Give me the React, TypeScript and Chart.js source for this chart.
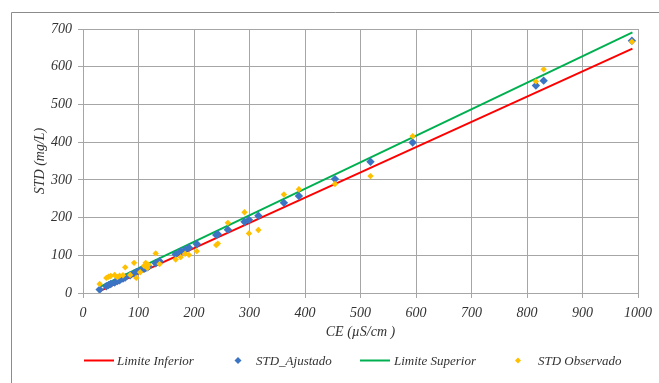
import React, { useEffect, useRef } from 'react';
import { Chart, registerables } from 'chart.js';

Chart.register(...registerables);

// CE (µS/cm) of each sample
const ceValues = [30, 42, 46, 50, 57, 62, 66, 72, 76, 85, 92, 96, 103, 110, 113, 116, 118, 131, 138, 167, 176, 184, 191, 205, 240, 243, 261, 291, 299, 316, 362, 389, 454, 518, 594, 816, 830, 989];
// STD fitted (mg/L)
const stdAjustado = [9, 18, 21, 24, 28, 32, 34, 38, 41, 47, 52, 55, 60, 64, 66, 68, 70, 79, 84, 103, 110, 115, 120, 130, 154, 156, 168, 189, 194, 205, 239, 257, 302, 348, 399, 550, 563, 669];
// STD observed (mg/L)
const stdObservado = [24, 40, 43, 45, 48, 42, 46, 47, 68, 48, 80, 40, 55, 72, 80, 66, 75, 105, 77, 89, 95, 104, 101, 111, 127, 131, 186, 214, 158, 167, 261, 275, 289, 310, 416, 561, 593, 666];
// Limit lines
const limitCE = [30, 990];
const limiteInferior = [5, 648];
const limiteSuperior = [16, 691];

const xTicks = [0, 100, 200, 300, 400, 500, 600, 700, 800, 900, 1000];
const yTicks = [0, 100, 200, 300, 400, 500, 600, 700];

const FONT = '"Liberation Serif", "Times New Roman", serif';
const TEXT = '#333333';
const GRID = '#a6a6a6';
const RED = '#ff0000';
const GREEN = '#00b050';
const BLUE = '#3c74c4';
const YELLOW = '#ffc000';

const toPoints = (xs: number[], ys: number[]) => xs.map((x, i) => ({ x, y: ys[i] }));

const decorPlugin = {
  id: 'decor',
  afterDraw(chart: any) {
    const ctx = chart.ctx as CanvasRenderingContext2D;
    const a = chart.chartArea;
    ctx.save();
    // outer chart frame (clipped at right / bottom)
    ctx.strokeStyle = '#8c8c8c';
    ctx.lineWidth = 1;
    ctx.beginPath();
    ctx.moveTo(11.5, chart.height);
    ctx.lineTo(11.5, 12.5);
    ctx.lineTo(chart.width, 12.5);
    ctx.stroke();

    // axis titles
    ctx.fillStyle = TEXT;
    ctx.font = `italic 14px ${FONT}`;
    ctx.textAlign = 'center';
    ctx.textBaseline = 'middle';
    ctx.fillText('CE (µS/cm )', (a.left + a.right) / 2, a.bottom + 39);
    ctx.save();
    ctx.translate(40, (a.top + a.bottom) / 2);
    ctx.rotate(-Math.PI / 2);
    ctx.fillText('STD (mg/L)', 0, 0);
    ctx.restore();

    // legend
    const ly = 360.5;
    ctx.font = `italic 13px ${FONT}`;
    ctx.textAlign = 'left';
    ctx.lineWidth = 2;
    const line = (x: number, c: string) => {
      ctx.strokeStyle = c;
      ctx.beginPath();
      ctx.moveTo(x, ly);
      ctx.lineTo(x + 30, ly);
      ctx.stroke();
    };
    const diamond = (x: number, r: number, c: string) => {
      ctx.fillStyle = c;
      ctx.beginPath();
      ctx.moveTo(x, ly - r);
      ctx.lineTo(x + r, ly);
      ctx.lineTo(x, ly + r);
      ctx.lineTo(x - r, ly);
      ctx.closePath();
      ctx.fill();
    };
    line(84, RED);
    diamond(238, 3.5, BLUE);
    line(360, GREEN);
    diamond(518, 3, YELLOW);
    ctx.fillStyle = TEXT;
    ctx.fillText('Limite Inferior', 117, ly + 1);
    ctx.fillText('STD_Ajustado', 256, ly + 1);
    ctx.fillText('Limite Superior', 394, ly + 1);
    ctx.fillText('STD Observado', 538, ly + 1);
    ctx.restore();
  },
};

export default function App() {
  const ref = useRef<HTMLCanvasElement | null>(null);

  useEffect(() => {
    document.body.style.margin = '0';
    const canvas = ref.current;
    if (!canvas) return;
    const chart = new Chart(canvas, {
      type: 'scatter',
      data: {
        datasets: [
          {
            label: 'Limite Inferior',
            data: toPoints(limitCE, limiteInferior),
            showLine: true,
            borderColor: RED,
            backgroundColor: RED,
            borderWidth: 2,
            pointRadius: 0,
            order: 3,
          },
          {
            label: 'STD_Ajustado',
            data: toPoints(ceValues, stdAjustado),
            showLine: false,
            pointStyle: 'rectRot',
            pointRadius: 4.2,
            backgroundColor: BLUE,
            borderColor: BLUE,
            borderWidth: 0,
            order: 1,
          },
          {
            label: 'Limite Superior',
            data: toPoints(limitCE, limiteSuperior),
            showLine: true,
            borderColor: GREEN,
            backgroundColor: GREEN,
            borderWidth: 2,
            pointRadius: 0,
            order: 2,
          },
          {
            label: 'STD Observado',
            data: toPoints(ceValues, stdObservado),
            showLine: false,
            pointStyle: 'rectRot',
            pointRadius: 3.2,
            backgroundColor: YELLOW,
            borderColor: YELLOW,
            borderWidth: 0,
            order: 0,
          },
        ],
      },
      options: {
        responsive: false,
        animation: false,
        devicePixelRatio: 1,
        layout: { padding: { top: 29, right: 21, left: 0, bottom: 0 } },
        plugins: {
          legend: { display: false },
          tooltip: { enabled: false },
        },
        scales: {
          x: {
            type: 'linear',
            min: 0,
            max: 1000,
            afterFit: (s: any) => {
              s.height = 90;
            },
            afterBuildTicks: (s: any) => {
              s.ticks = xTicks.map((v) => ({ value: v }));
            },
            grid: { color: GRID, lineWidth: 1, tickLength: 5 },
            border: { color: GRID, width: 1 },
            ticks: {
              color: TEXT,
              font: { family: FONT, size: 14, style: 'italic' },
              padding: 7,
              maxRotation: 0,
              callback: (v: any) => String(v),
            },
          },
          y: {
            type: 'linear',
            min: 0,
            max: 700,
            afterFit: (s: any) => {
              s.width = 83;
            },
            afterBuildTicks: (s: any) => {
              s.ticks = yTicks.map((v) => ({ value: v }));
            },
            grid: { color: GRID, lineWidth: 1, tickLength: 5 },
            border: { color: GRID, width: 1 },
            ticks: {
              color: TEXT,
              font: { family: FONT, size: 14, style: 'italic' },
              padding: 6,
              callback: (v: any) => String(v),
            },
          },
        },
      },
      plugins: [decorPlugin],
    } as any);
    return () => chart.destroy();
  }, []);

  return (
    <div style={{ width: 659, height: 383, background: '#ffffff' }}>
      <canvas ref={ref} width={659} height={383} style={{ display: 'block' }} />
    </div>
  );
}
